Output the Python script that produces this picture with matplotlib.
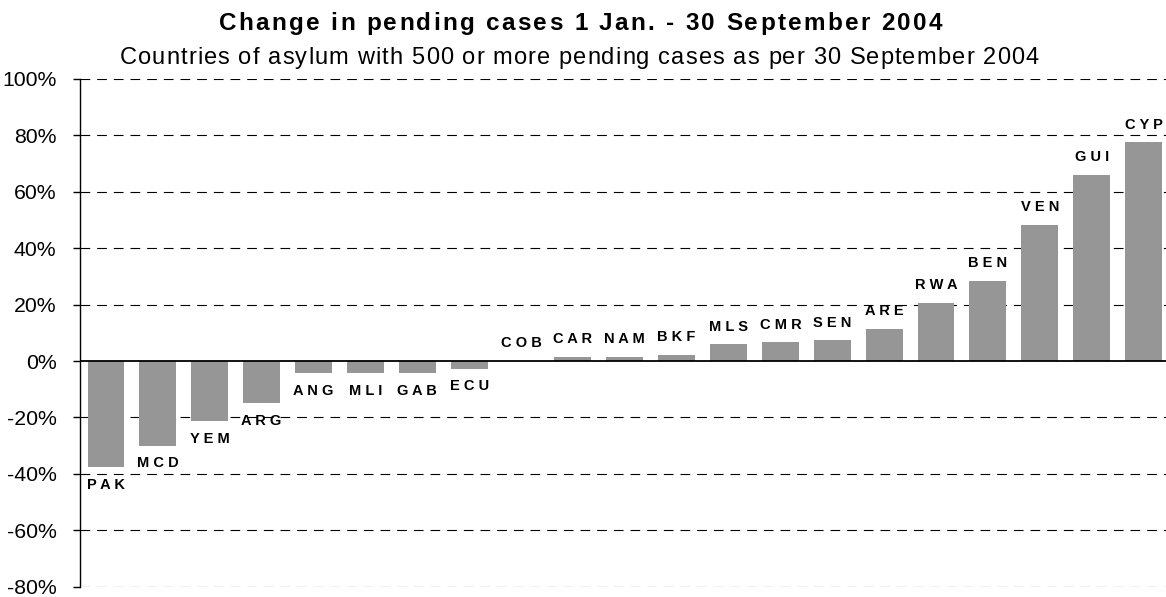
import matplotlib
matplotlib.use("Agg")
import matplotlib.pyplot as plt
from matplotlib.font_manager import FontProperties
import numpy as np

countries = ["PAK", "MCD", "YEM", "ARG", "ANG", "MLI", "GAB", "ECU", "COB", "CAR",
             "NAM", "BKF", "MLS", "CMR", "SEN", "ARE", "RWA", "BEN", "VEN", "GUI", "CYP"]
change_pct = [-37.6, -30.0, -21.3, -15.0, -4.3, -4.3, -4.3, -2.8, 0.0, 1.6,
              1.6, 2.3, 5.9, 6.6, 7.3, 11.5, 20.7, 28.5, 48.4, 66.1, 77.5]
yticks = [-80, -60, -40, -20, 0, 20, 40, 60, 80, 100]
ytick_labels = [f"{v}%" for v in yticks]

title = "Change in pending cases 1 Jan. - 30 September 2004"
subtitle = "Countries of asylum with 500 or more pending cases as per 30 September 2004"

plt.rcParams['font.family'] = ['Liberation Sans', 'DejaVu Sans']
plt.rcParams['lines.scale_dashes'] = False

W, H = 1166, 597
fig = plt.figure(figsize=(W / 100, H / 100), dpi=100)
left = 80 / W
right = 1169.5 / W
bottom = (H - 586.7) / H
top = (H - 79) / H
ax = fig.add_axes([left, bottom, right - left, top - bottom])

x = np.arange(len(countries))
ax.bar(x, change_pct, width=0.71, color="#969696", zorder=3)

ax.set_xlim(-0.5, len(countries) - 0.5)
ax.set_ylim(-80, 100)
ax.set_yticks(yticks)
ax.set_yticklabels(ytick_labels, fontsize=15.3)
ax.tick_params(axis='y', length=5, width=1, pad=12, direction='out', color='black')
ax.set_xticks([])

for v in yticks:
    if v == 0:
        ax.axhline(0, color='black', lw=1.3, zorder=4)
    else:
        ax.axhline(v, color='black', lw=0.8, linestyle=(0, (7, 5)), zorder=1)

for s in ['top', 'right', 'bottom']:
    ax.spines[s].set_visible(False)
ax.spines['left'].set_linewidth(1)
ax.spines['left'].set_zorder(5)

for xi, name, v in zip(x, countries, change_pct):
    lab = " ".join(name)
    if v >= 0:
        ax.annotate(lab, (xi, v), xytext=(0, 10), textcoords='offset points',
                    ha='center', va='baseline', fontsize=10.5, fontweight='bold', zorder=6)
    else:
        ax.annotate(lab, (xi, v), xytext=(0, -7.5), textcoords='offset points',
                    ha='center', va='top', fontsize=10.5, fontweight='bold', zorder=6)

renderer = fig.canvas.get_renderer()


def spaced_text(s, cx_px, base_px, size, weight, extra_px):
    prop = FontProperties(family='Liberation Sans', size=size, weight=weight)

    def w(t):
        return renderer.get_text_width_height_descent(t, prop, ismath=False)[0]

    wH = w("H")
    pos = [0.0] + [w(s[:i] + "H") - wH for i in range(1, len(s))]
    pos = [p + i * extra_px for i, p in enumerate(pos)]
    total = pos[-1] + w(s[-1])
    x0 = cx_px - total / 2
    for ch, p in zip(s, pos):
        if ch == " ":
            continue
        fig.text((x0 + p) / W, 1 - base_px / H, ch, ha='left', va='baseline',
                 fontproperties=prop)


spaced_text(title, 580.5, 30, 17.5, 'bold', 2.3)
spaced_text(subtitle, 579, 64, 17, 'normal', 1.1)

fig.savefig("out.png", dpi=100)
